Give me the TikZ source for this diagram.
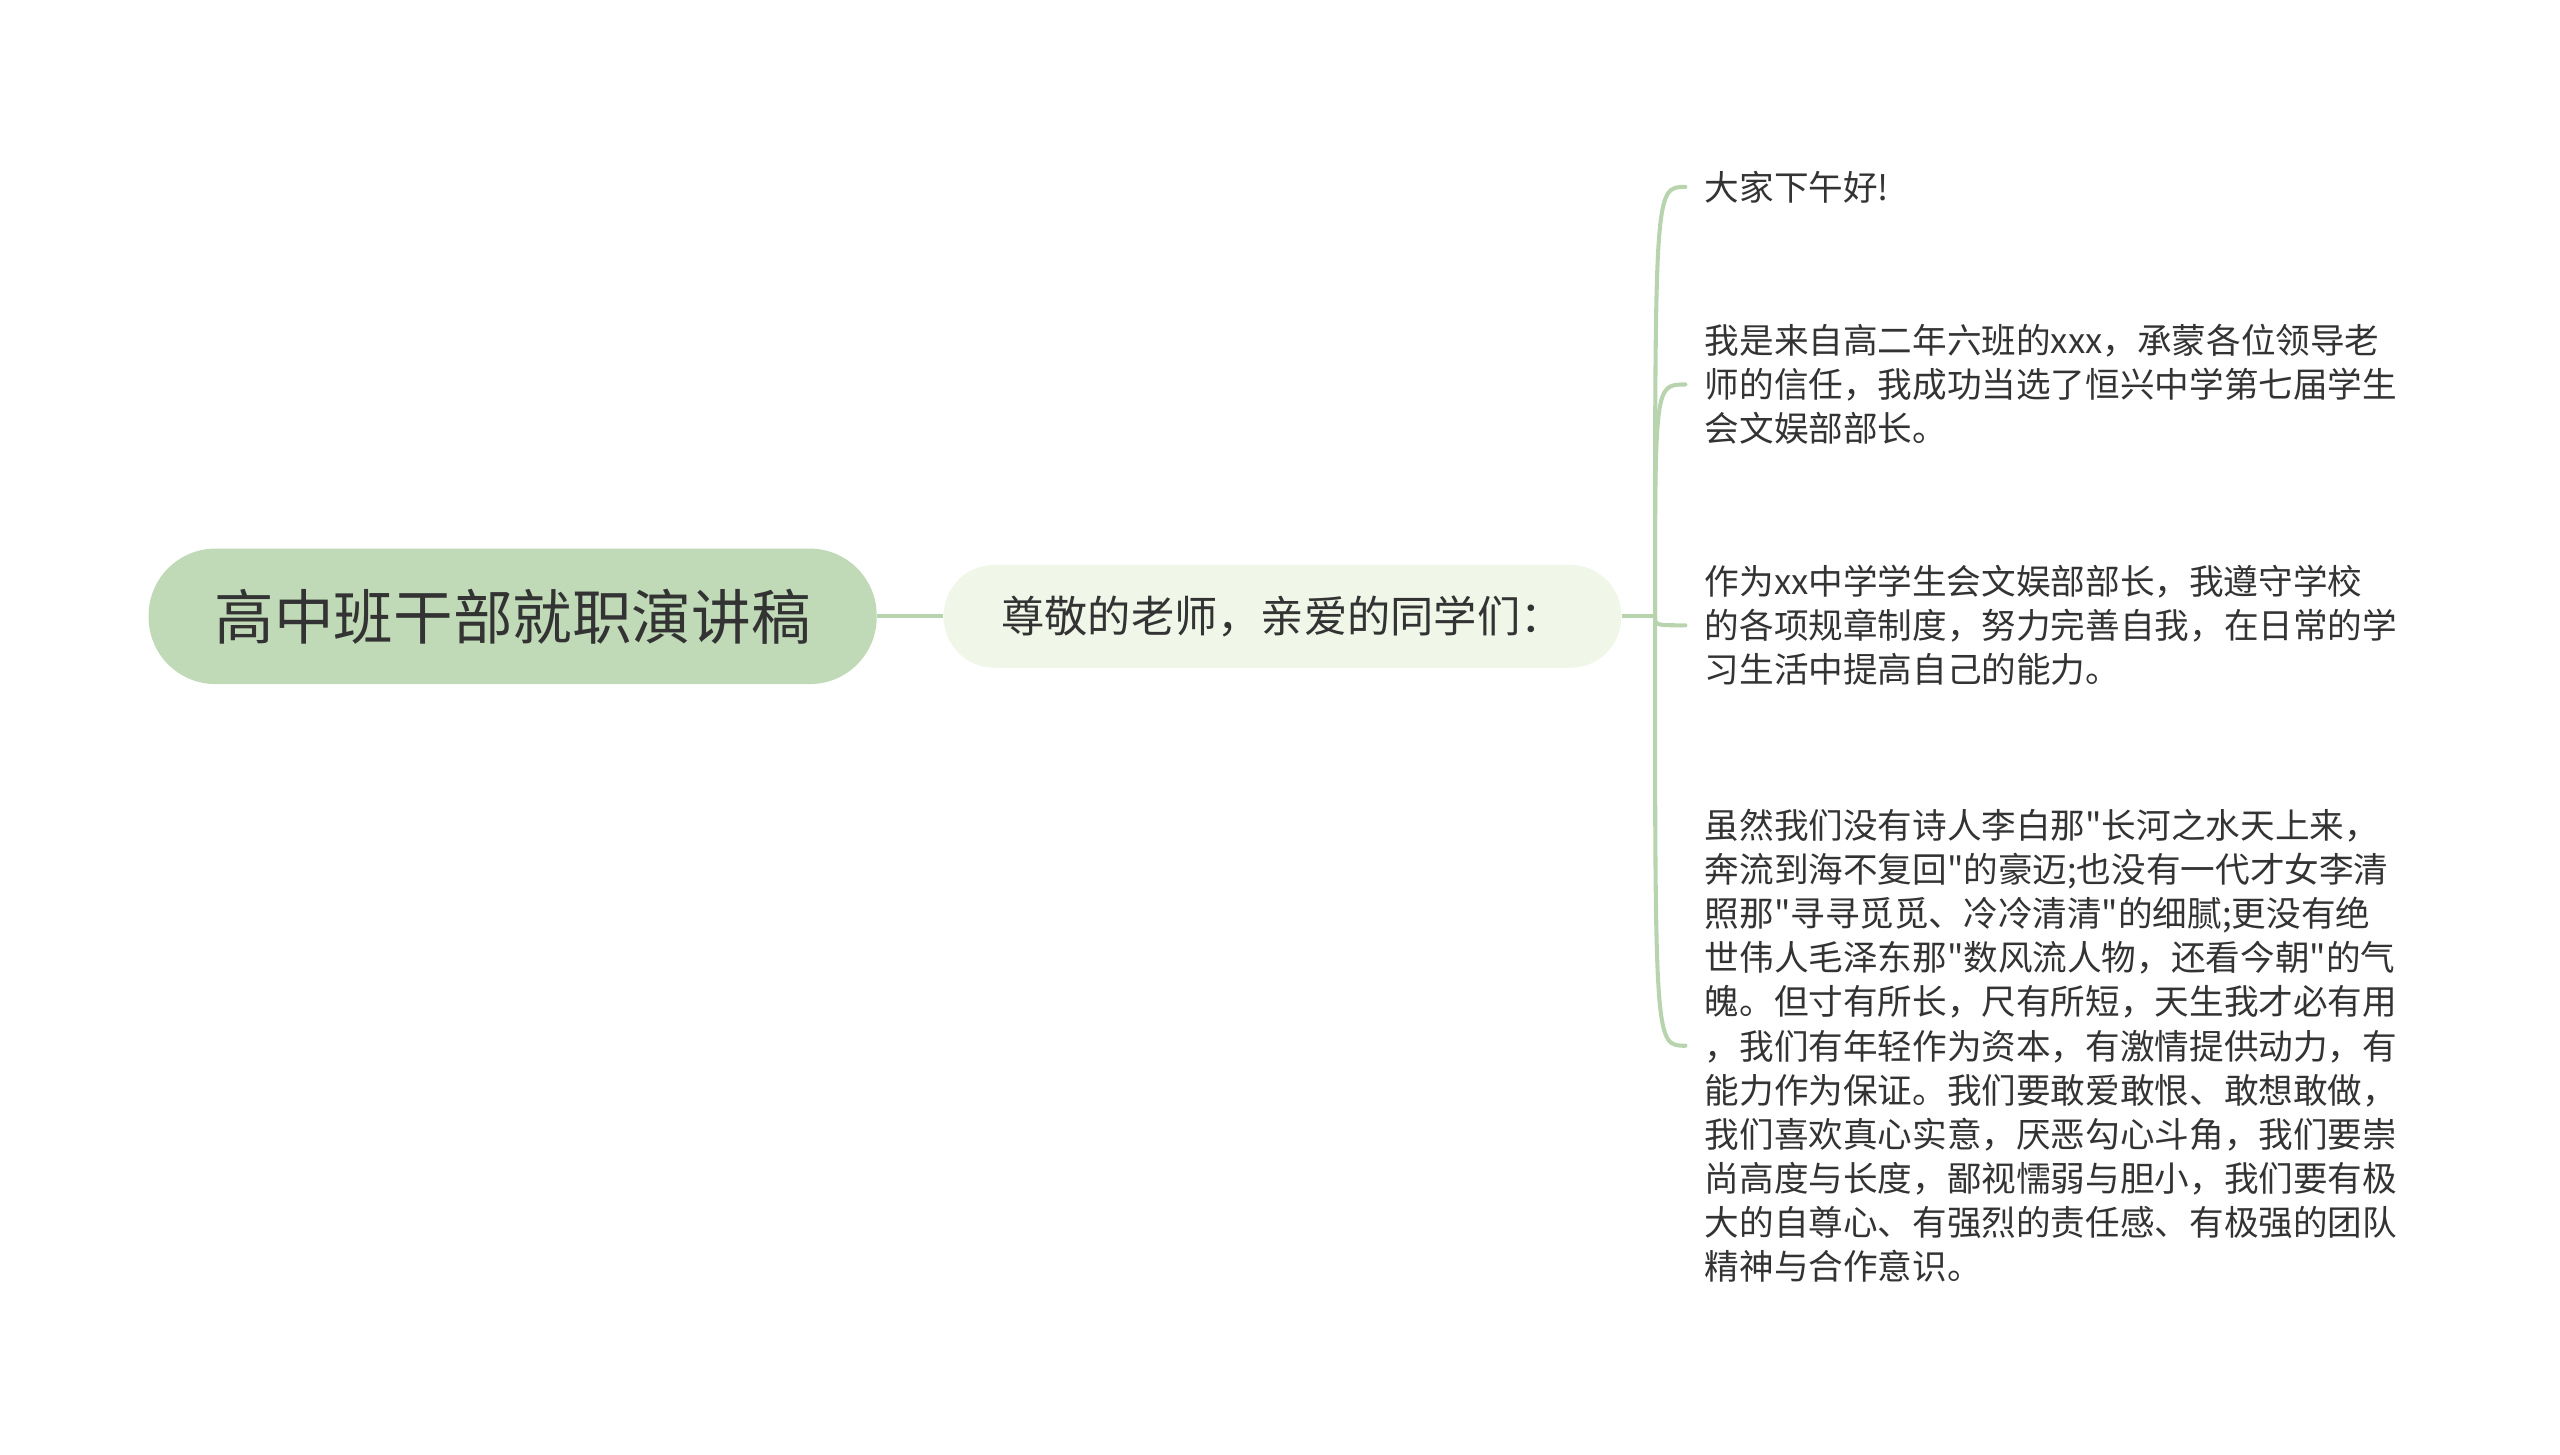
\documentclass[tikz,border=0pt]{standalone}
\usepackage{fontspec}
\setmainfont[Ligatures=TeXOff]{Noto Sans CJK SC}
\usepackage{tikz}
\definecolor{text_gray}{RGB}{51,51,51}
\definecolor{root_green}{RGB}{192,218,184}
\definecolor{sub_green}{RGB}{240,246,232}
\definecolor{edge_green}{RGB}{184,212,174}

\begin{document}
\begin{tikzpicture}[x=1pt,y=-1pt]
    \tikzstyle{root}=[rectangle, rounded corners=41pt, fill=root_green, text=text_gray, minimum width=446pt, minimum height=83pt, font=\fontsize{36.5}{40}\selectfont]
    \tikzstyle{sub}=[rectangle, rounded corners=31pt, fill=sub_green, text=text_gray, minimum width=415pt, minimum height=63pt, font=\fontsize{26.5}{30}\selectfont]
    \tikzstyle{leaf}=[anchor=west, align=left, inner xsep=11.7pt, inner ysep=0pt, text=text_gray, font=\fontsize{21.2}{27}\selectfont]
    \tikzstyle{branch}=[draw=edge_green, line width=2.5pt]

    \useasboundingbox (0,0) rectangle (1568,891);

    \node[root] (r) at (314,377.5) {高中班干部就职演讲稿};
    \node[sub]  (s) at (785.5,377.5) {尊敬的老师，亲爱的同学们：};
    \coordinate (hub) at (1013.7,377.5);

    \node[leaf] (l1) at (1032.3,114.5) {大家下午好!};
    \node[leaf] (l2) at (1032.3,235.5) {我是来自高二年六班的xxx，承蒙各位领导老\\师的信任，我成功当选了恒兴中学第七届学生\\会文娱部部长。};
    \node[leaf] (l3) at (1032.3,383) {作为xx中学学生会文娱部部长，我遵守学校\\的各项规章制度，努力完善自我，在日常的学\\习生活中提高自己的能力。};
    \node[leaf] (l4) at (1032.3,640.5) {虽然我们没有诗人李白那"长河之水天上来，\\奔流到海不复回"的豪迈;也没有一代才女李清\\照那"寻寻觅觅、冷冷清清"的细腻;更没有绝\\世伟人毛泽东那"数风流人物，还看今朝"的气\\魄。但寸有所长，尺有所短，天生我才必有用\\，我们有年轻作为资本，有激情提供动力，有\\能力作为保证。我们要敢爱敢恨、敢想敢做，\\我们喜欢真心实意，厌恶勾心斗角，我们要崇\\尚高度与长度，鄙视懦弱与胆小，我们要有极\\大的自尊心、有强烈的责任感、有极强的团队\\精神与合作意识。};

    \draw[branch] (r.east) -- (s.west);
    \draw[branch] (s.east) -- (hub);
    \foreach \l in {l1,l2,l3,l4}
      \draw[branch, line cap=round] (hub) .. controls (hub |- \l.west) .. (\l.west);
\end{tikzpicture}
\end{document}
